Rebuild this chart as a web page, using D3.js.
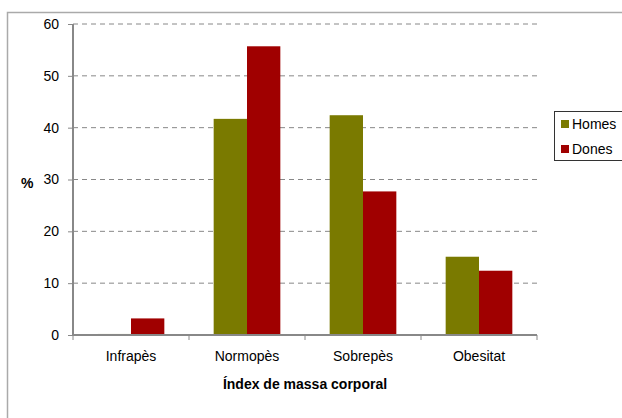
<!DOCTYPE html>
<html>
<head>
<meta charset="utf-8">
<script src="https://cdn.jsdelivr.net/npm/d3@7"></script>
<style>
  body { margin: 0; background: #fff; }
  svg { display: block; font-family: "Liberation Sans", Arial, sans-serif; }
</style>
</head>
<body>
<svg id="chart" width="622" height="418"></svg>
<script>
const categories = ['Infrapès', 'Normopès', 'Sobrepès', 'Obesitat'];
const seriesNames = ['Homes', 'Dones'];
const homes = [0.2, 41.7, 42.4, 15.1];
const dones = [3.2, 55.7, 27.7, 12.4];
const yTicks = [0, 10, 20, 30, 40, 50, 60];
const colors = ['#7a7a00', '#a00000'];

const svg = d3.select('#chart');
const plotLeft = 73, plotRight = 537, plotTop = 24, plotBottom = 335;
const fontSize = 14;

// outer frame (runs off the right and bottom edge)
svg.append('path')
    .attr('d', 'M7.5,430 V12.5 H640')
    .attr('fill', 'none')
    .attr('stroke', '#aaa')
    .attr('stroke-width', 1.5);

const x = d3.scaleBand().domain(categories).range([plotLeft, plotRight]);
const xInner = d3.scaleBand().domain(seriesNames).range([0, x.bandwidth()]).paddingOuter(0.74).paddingInner(0);
const y = d3.scaleLinear().domain([0, 60]).range([plotBottom, plotTop]);

// grid
svg.append('g')
    .selectAll('line')
    .data(yTicks.filter(d => d > 0))
    .join('line')
    .attr('x1', plotLeft).attr('x2', plotRight)
    .attr('y1', d => y(d)).attr('y2', d => y(d))
    .attr('stroke', '#888')
    .attr('stroke-dasharray', '5,4');

// bars
const rows = categories.map((c, i) => ({ c, values: [homes[i], dones[i]] }));
svg.append('g')
    .selectAll('g')
    .data(rows)
    .join('g')
    .attr('transform', d => `translate(${x(d.c)},0)`)
    .selectAll('rect')
    .data(d => d.values.map((v, j) => ({ s: seriesNames[j], v, j })))
    .join('rect')
    .attr('x', d => xInner(d.s))
    .attr('width', xInner.bandwidth())
    .attr('y', d => y(d.v))
    .attr('height', d => y(0) - y(d.v))
    .attr('fill', d => colors[d.j]);

// y axis
const yAxis = svg.append('g')
    .attr('transform', `translate(${plotLeft},0)`)
    .call(d3.axisLeft(y).tickValues(yTicks).tickSize(5).tickPadding(9));
yAxis.select('.domain').attr('stroke', '#888').attr('stroke-width', 2).attr('d', `M0,${plotTop}V${plotBottom}`);
yAxis.selectAll('.tick line').attr('stroke', '#888');
yAxis.selectAll('.tick text').attr('font-size', fontSize).attr('fill', '#000').attr('font-family', '"Liberation Sans", Arial, sans-serif');

// x axis
const xAxis = svg.append('g')
    .attr('transform', `translate(0,${plotBottom})`)
    .call(d3.axisBottom(x).tickSize(0).tickPadding(16));
xAxis.select('.domain').attr('stroke', '#888').attr('stroke-width', 2).attr('d', `M${plotLeft},0H${plotRight}`);
xAxis.selectAll('.tick text').attr('font-size', fontSize).attr('fill', '#000').attr('font-family', '"Liberation Sans", Arial, sans-serif');
xAxis.append('g')
    .selectAll('line')
    .data(categories.concat(['__end']))
    .join('line')
    .attr('x1', d => d === '__end' ? plotRight : x(d))
    .attr('x2', d => d === '__end' ? plotRight : x(d))
    .attr('y1', 0).attr('y2', 5)
    .attr('stroke', '#888');

// axis titles
svg.append('text')
    .attr('x', 21).attr('y', 188)
    .attr('font-size', fontSize).attr('font-weight', 'bold')
    .text('%');
svg.append('text')
    .attr('x', (plotLeft + plotRight) / 2).attr('y', 389)
    .attr('text-anchor', 'middle')
    .attr('font-size', fontSize).attr('font-weight', 'bold')
    .text('Índex de massa corporal');

// legend
const legend = svg.append('g');
legend.append('rect')
    .attr('x', 554.5).attr('y', 111.5)
    .attr('width', 80).attr('height', 49)
    .attr('fill', '#fff').attr('stroke', '#333');
const item = legend.selectAll('g.item')
    .data(seriesNames)
    .join('g')
    .attr('class', 'item')
    .attr('transform', (d, i) => `translate(561,${124 + i * 25})`);
item.append('rect')
    .attr('x', 0).attr('y', -4).attr('width', 8).attr('height', 8)
    .attr('fill', (d, i) => colors[i]);
item.append('text')
    .attr('x', 11).attr('y', 5)
    .attr('font-size', fontSize)
    .text(d => d);
</script>
</body>
</html>
